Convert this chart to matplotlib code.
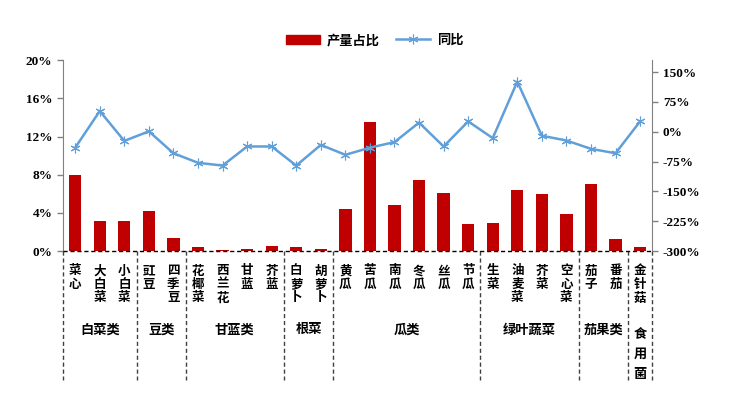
import matplotlib.pyplot as plt
from matplotlib.transforms import blended_transform_factory
from matplotlib.patches import Patch
from matplotlib.lines import Line2D

plt.rcParams['font.family'] = ['Noto Sans CJK SC', 'DejaVu Sans']

# data
categories = ['菜心', '大白菜', '小白菜', '豇豆', '四季豆', '花椰菜', '西兰花', '甘蓝', '芥蓝',
              '白萝卜', '胡萝卜', '黄瓜', '苦瓜', '南瓜', '冬瓜', '丝瓜', '节瓜',
              '生菜', '油麦菜', '芥菜', '空心菜', '茄子', '番茄', '金针菇']
share = [8.0, 3.2, 3.2, 4.2, 1.4, 0.4, 0.1, 0.2, 0.55, 0.4, 0.2, 4.4, 13.5,
         4.8, 7.5, 6.1, 2.8, 2.9, 6.4, 6.0, 3.9, 7.0, 1.3, 0.4]
yoy = [-40, 52, -23, 1, -54, -78, -85, -37, -37, -85, -33, -58, -40,
       -26, 23, -37, 26, -16, 126, -10, -22, -43, -54, 26]
groups = ['白菜类', '豆类', '甘蓝类', '根菜', '瓜类', '绿叶蔬菜', '茄果类', '食用菌']
group_sizes = [3, 2, 4, 2, 6, 4, 2, 1]

bar_color = '#C00000'
line_color = '#619FD8'
num_font = ['Liberation Serif', 'Noto Sans CJK SC']

fig = plt.figure(figsize=(7.49, 3.93), dpi=100)
ax = fig.add_axes([0.084, 0.361, 0.787, 0.486])
ax2 = ax.twinx()

x = list(range(len(categories)))
ax.bar(x, share, width=0.5, color=bar_color, zorder=2)
ax2.plot(x, yoy, color=line_color, lw=1.8, marker=(6, 2, 0), ms=7, mew=0.8, zorder=3)

ax.set_xlim(-0.5, len(categories) - 0.5)
ax.set_ylim(0, 20)
ax.set_yticks([0, 4, 8, 12, 16, 20])
ax.set_yticklabels(['%d%%' % v for v in [0, 4, 8, 12, 16, 20]])
ax2.set_ylim(-300, 180)
ax2.set_yticks([-300, -225, -150, -75, 0, 75, 150])
ax2.set_yticklabels(['%d%%' % v for v in [-300, -225, -150, -75, 0, 75, 150]])
ax.set_xticks([])

for a in (ax, ax2):
    a.spines['top'].set_visible(False)
    a.spines['bottom'].set_visible(False)
    a.spines['left'].set_color('#808080')
    a.spines['right'].set_color('#808080')
    a.tick_params(axis='y', colors='#808080', length=4, width=1, labelcolor='black')
    for lab in a.get_yticklabels():
        lab.set_family(num_font)
        lab.set_fontweight('bold')
        lab.set_fontsize(9.5)
ax.spines['right'].set_visible(False)
ax2.spines['left'].set_visible(False)

trans = blended_transform_factory(ax.transData, ax.transAxes)
# dashed baseline
ax.plot([-0.5, len(categories) - 0.5], [0, 0], transform=trans, color='black',
        lw=1.0, ls=(0, (3, 2)), clip_on=False, zorder=4)

# category labels, stacked vertically
for i, name in enumerate(categories):
    ax.text(i, -0.07, '\n'.join(name), transform=trans, ha='center', va='top',
            fontsize=9, linespacing=1.05, fontweight='bold')

# group separators and labels
start = 0
bounds = [-0.5]
for g, n in zip(groups, group_sizes):
    center = start + (n - 1) / 2
    if n == 1:
        ax.text(center, -0.40, '\n'.join(g), transform=trans, ha='center', va='top',
                fontsize=9.5, linespacing=1.5, fontweight='bold')
    else:
        ax.text(center, -0.41, g, transform=trans, ha='center', va='center',
                fontsize=9.5, fontweight='bold')
    start += n
    bounds.append(start - 0.5)
for b in bounds:
    ax.plot([b, b], [0, -0.675], transform=trans, color='#404040', lw=1.0,
            ls=(0, (3, 2)), clip_on=False)

handles = [Patch(color=bar_color),
           Line2D([], [], color=line_color, lw=1.8, marker=(6, 2, 0), ms=7, mew=0.8)]
fig.legend(handles, ['产量占比', '同比'], loc='center', bbox_to_anchor=(0.5, 0.898),
           ncol=2, frameon=False, handlelength=2.6, handletextpad=0.5, columnspacing=1.2,
           prop={'weight': 'bold', 'size': 9.5})

fig.savefig('out.png', dpi=100)
